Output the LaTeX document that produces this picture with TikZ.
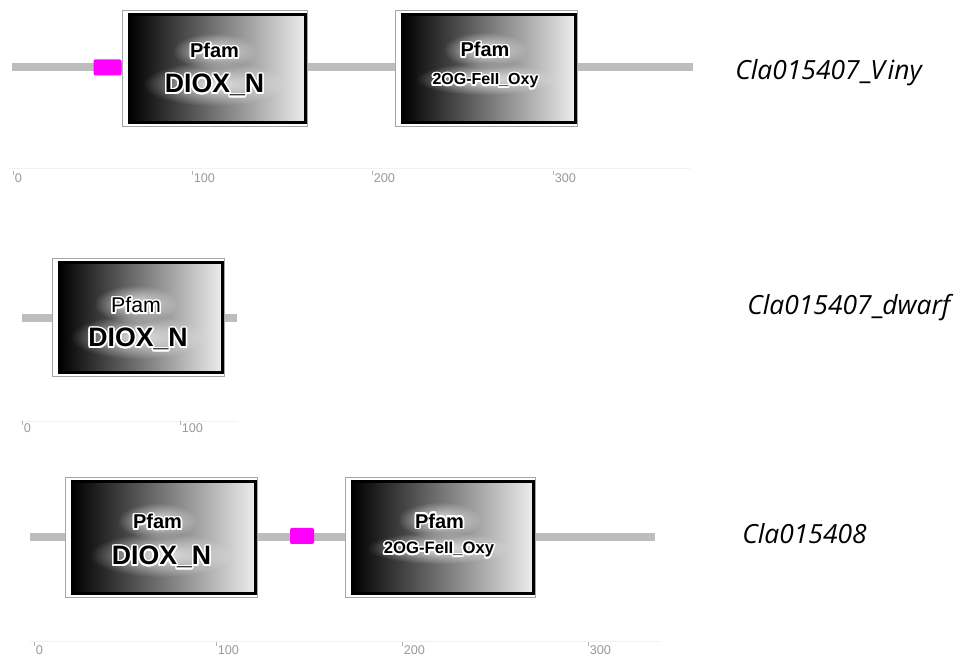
\documentclass[tikz,border=0pt]{standalone}
\usepackage{fontspec}
\setmainfont{Liberation Sans}
\newfontfamily\labf{Open Sans}
\usepackage{contour}
\contourlength{1.2pt}
\usetikzlibrary{calc,fadings}
\tikzfading[name=softglow, inner color=transparent!0, outer color=transparent!100]
\definecolor{bbgray}{HTML}{BDBDBD}
\definecolor{mag}{HTML}{FF00FF}
\tikzset{
  backbone/.style={draw=bbgray, line width=6pt},
  outerframe/.style={draw=gray!70, line width=0.6pt, fill=white},
  dom/.style={draw=black, line width=2pt, left color=black, right color=white!93!black, inner sep=0pt},
  motif/.style={fill=mag, draw=none, rounded corners=1pt, inner sep=0pt},
  halo/.style={fill=white, fill opacity=0.8, path fading=softglow},
  pfam/.style={anchor=base, inner sep=0pt, font=\bfseries\fontsize{15}{16}\selectfont},
  big/.style={anchor=base, inner sep=0pt, font=\bfseries\fontsize{20}{22}\selectfont},
  small/.style={anchor=base, inner sep=0pt, font=\bfseries\fontsize{12}{13}\selectfont},
  scalelbl/.style={anchor=base west, inner sep=0pt, text=gray!80, font=\fontsize{9.5}{10}\selectfont},
  tickmark/.style={draw=gray!60, line width=0.4pt},
  scaleline/.style={draw=gray!10, line width=0.5pt},
  genelbl/.style={anchor=base west, inner sep=0pt, font=\labf\itshape\fontsize{19.8}{21}\selectfont},
}
% #1 name, #2-#5 outer frame x1,y1,x2,y2
\newcommand\DomBox[5]{%
  \draw[outerframe] (#2,#3) rectangle (#4,#5);
  \node[dom, minimum width={0.75pt*(#4-#2-8.5)}, minimum height={0.75pt*(#5-#3-8)}]
    (#1) at ({(#2+#4+5.5)/2},{(#3+#5+1)/2}) {};
}
% soft glow behind a text: centre x, centre y, rx, ry
\newcommand\Glow[4]{\fill[halo] (#1,#2) ellipse ({#3*0.75pt} and {#4*0.75pt});}
\begin{document}
\begin{tikzpicture}[x=0.75pt,y=-0.75pt]
\useasboundingbox (0,0) rectangle (958,659);

% ---------- Row 1 ----------
\coordinate (r1s) at (12,67);
\coordinate (r1e) at (693,67);
\draw[backbone] (r1s) -- (r1e);
\node[motif, minimum width={0.75pt*28}, minimum height={0.75pt*16}] (m1) at (107.5,67.5) {};
\DomBox{d11}{122}{10}{307}{126}
\DomBox{d12}{395}{10}{577}{126}
\Glow{214.5}{51}{42}{18}
\Glow{214.5}{84}{72}{22}
\Glow{485}{50}{42}{18}
\Glow{485.5}{79}{70}{16}
\node[pfam] (d11a) at (214.5,58) {\contour{white}{Pfam}};
\node[big]  (d11b) at (214.5,93) {\contour{white}{DIOX\_N}};
\node[pfam] (d12a) at (485,57) {\contour{white}{Pfam}};
\node[small] (d12b) at (485.5,85) {\contour{white}{2OG-FeII\_Oxy}};
\node[genelbl] (g1) at (735,80) {Cla015407{\upshape\bfseries\_}V\kern2pt iny};

\draw[scaleline] (10,168) -- (690,168);
\foreach \x/\t [count=\i] in {13/0,192/100,372/200,553/300}{
  \draw[tickmark] (\x,171) -- (\x,175);
  \node[scalelbl] (s1\i) at (\x+1.5,183) {\t};
}

% ---------- Row 2 ----------
\coordinate (r2s) at (22,318);
\coordinate (r2e) at (237,318);
\draw[backbone] (r2s) -- (r2e);
\DomBox{d21}{52}{258}{224}{376}
\Glow{136}{304}{42}{19}
\Glow{138}{337}{68}{22}
\node[anchor=base, inner sep=0pt, font=\fontsize{16}{17}\selectfont] (d21a) at (136,313) {\contour{white}{Pfam}};
\node[big] (d21b) at (138,347) {\contour{white}{DIOX\_N}};
\node[genelbl] (g2) at (747,315) {Cla015407{\upshape\bfseries\_}dwarf};

\draw[scaleline] (20,421) -- (238,421);
\foreach \x/\t [count=\i] in {22/0,180/100}{
  \draw[tickmark] (\x,421) -- (\x,425);
  \node[scalelbl] (s2\i) at (\x+1.5,432.5) {\t};
}

% ---------- Row 3 ----------
\coordinate (r3s) at (30,537);
\coordinate (r3e) at (655,537);
\draw[backbone] (r3s) -- (r3e);
\node[motif, minimum width={0.75pt*24}, minimum height={0.75pt*16}] (m3) at (302,536) {};
\DomBox{d31}{65}{477}{257}{597}
\DomBox{d32}{345}{477}{535}{597}
\Glow{157.5}{521}{40}{18}
\Glow{161.5}{555}{72}{22}
\Glow{439.5}{520}{42}{18}
\Glow{439}{548}{72}{16}
\node[pfam] (d31a) at (157.5,529) {\contour{white}{Pfam}};
\node[big]  (d31b) at (161.5,565) {\contour{white}{DIOX\_N}};
\node[pfam] (d32a) at (439.5,528) {\contour{white}{Pfam}};
\node[small, font=\bfseries\fontsize{12.5}{13}\selectfont] (d32b) at (439,554) {\contour{white}{2OG-FeII\_Oxy}};
\node[genelbl] (g3) at (742,543) {Cla015408};

\draw[scaleline] (30,641) -- (660,641);
\foreach \x/\t [count=\i] in {34/0,216/100,402/200,588/300}{
  \draw[tickmark] (\x,642) -- (\x,646);
  \node[scalelbl] (s3\i) at (\x+1.5,654.5) {\t};
}
\end{tikzpicture}
\end{document}
